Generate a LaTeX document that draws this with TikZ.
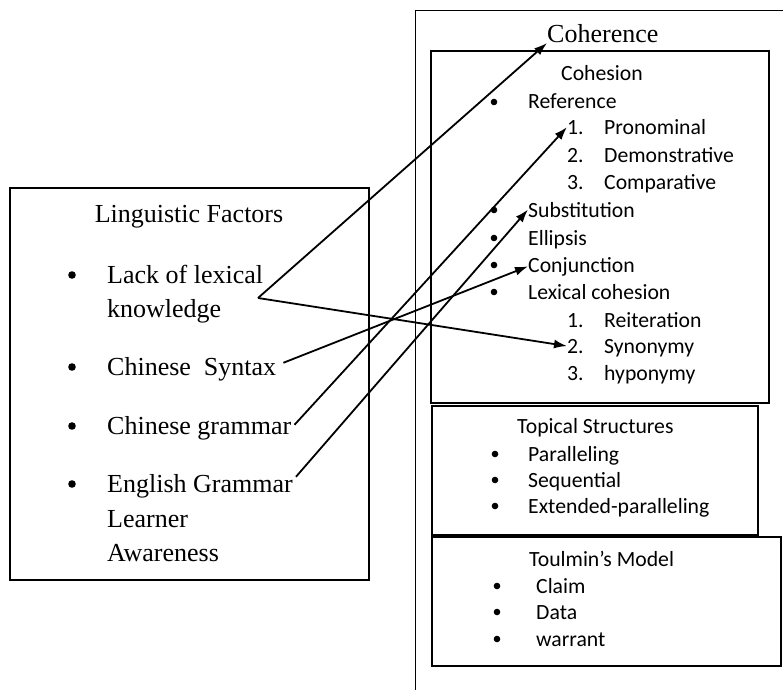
\documentclass[tikz,border=0pt]{standalone}
\usepackage{fontspec}
\setmainfont{Liberation Serif}
\newfontfamily\calibri{Carlito}
\usetikzlibrary{arrows.meta}

\tikzset{
  serif/.style={anchor=base west, inner sep=0pt, font=\fontsize{26}{31}\selectfont},
  sans/.style={anchor=base west, inner sep=0pt, font=\calibri\fontsize{21.7}{26}\selectfont},
  link/.style={-{Latex[length=13pt,width=9pt]}, line width=1.8pt},
}

\begin{document}
\begin{tikzpicture}[x=1pt,y=-1pt]
\useasboundingbox (0,0) rectangle (783,690);
% boxes
\draw[line width=1pt] (415,690) -- (415,11) -- (783,11);
\draw[line width=1.2pt] (431,51) rectangle (769,403);
\draw[line width=2.4pt] (432,406) rectangle (758,535);
\draw[line width=2.4pt] (432,537) rectangle (781,666);
\draw[line width=1.2pt] (10,188) rectangle (369,580);
% linguistic factors
\node[serif, anchor=base] (lingf) at (189,222) {Linguistic Factors};
\node[serif] (lack) at (107,283) {Lack of lexical};
\node[serif] (know) at (107,317) {knowledge};
\node[serif] (syntax) at (107,375) {Chinese\ \ Syntax};
\node[serif] (cgram) at (107,434) {Chinese grammar};
\node[serif] (egram) at (107,492) {English Grammar};
\node[serif] (learner) at (107,527) {Learner};
\node[serif] (aware) at (107,561) {Awareness};
\foreach \y in {275,367,426,484} \fill (72,\y) circle (3.8);
% coherence
\node[serif] (coher) at (547,43) {Coherence};
\node[sans] (cohes) at (561,81) {Cohesion};
\node[sans] (refer) at (528,109) {Reference};
\node[sans] (num1) at (567,134) {1.};
\node[sans] (pron) at (604,134) {Pronominal};
\node[sans] (num2) at (567,162) {2.};
\node[sans] (demo) at (604,162) {Demonstrative};
\node[sans] (num3) at (567,189) {3.};
\node[sans] (comp) at (604,189) {Comparative};
\node[sans] (subst) at (528,217) {Substitution};
\node[sans] (ellip) at (528,245) {Ellipsis};
\node[sans] (conj) at (528,272) {Conjunction};
\node[sans] (lexc) at (528,299) {Lexical cohesion};
\node[sans] (rei1) at (567,327) {1.};
\node[sans] (reit) at (604,327) {Reiteration};
\node[sans] (syn2) at (567,353) {2.};
\node[sans] (syno) at (604,353) {Synonymy};
\node[sans] (hyp3) at (567,380) {3.};
\node[sans] (hypo) at (604,380) {hyponymy};
\foreach \y in {102,210,238,265,292} \fill (494,\y) circle (3.3);
% topical structures
\node[sans] (topic) at (517,433) {Topical Structures};
\node[sans] (para) at (528,461) {Paralleling};
\node[sans] (sequ) at (528,487) {Sequential};
\node[sans] (extp) at (528,513) {Extended-paralleling};
\foreach \y in {454,480,506} \fill (495,\y) circle (3.3);
% toulmin
\node[sans] (toul) at (529,566) {Toulmin’s Model};
\node[sans] (claim) at (536,593) {Claim};
\node[sans] (data) at (536,619) {Data};
\node[sans] (warr) at (536,646) {warrant};
\foreach \y in {586,612,639} \fill (497,\y) circle (3.3);
% links
\coordinate (hub) at (258,298);
\draw[link] (hub) -- (coher.base west);
\draw[link] (hub) -- (syn2.west);
\draw[link] ([shift={(7pt,6pt)}]syntax.east) -- (conj.west);
\draw[link] ([shift={(3pt,3pt)}]cgram.east) -- (num1.west);
\draw[link] ([shift={(3pt,9pt)}]egram.east) -- (subst.west);
\end{tikzpicture}
\end{document}
